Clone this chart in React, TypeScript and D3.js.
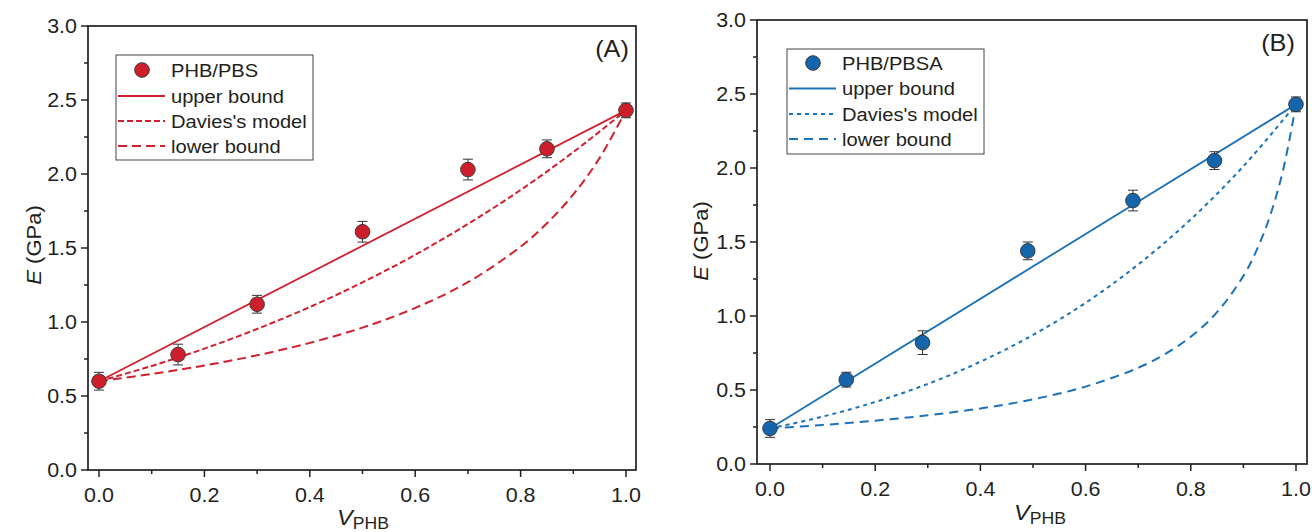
import React from 'react';
import * as d3 from 'd3';

// ---- PHB/PBS blends (panel A) ----
const phbFractionA = [0, 0.15, 0.3, 0.5, 0.7, 0.85, 1.0];
const modulusA = [0.6, 0.78, 1.12, 1.61, 2.03, 2.17, 2.43];
const errorA = [0.06, 0.07, 0.06, 0.07, 0.07, 0.06, 0.05];

// ---- PHB/PBSA blends (panel B) ----
const phbFractionB = [0, 0.145, 0.29, 0.49, 0.69, 0.845, 1.0];
const modulusB = [0.24, 0.57, 0.82, 1.44, 1.78, 2.05, 2.43];
const errorB = [0.06, 0.05, 0.08, 0.06, 0.07, 0.06, 0.05];

// ---- model curves, panel A ----
const upperVA = [0, 1];
const upperEA = [0.6, 2.43];
const daviesVA = [0, 0.1, 0.2, 0.3, 0.4, 0.5, 0.6, 0.7, 0.8, 0.9, 1.0];
const daviesEA = [0.6, 0.703, 0.82, 0.953, 1.101, 1.268, 1.454, 1.662, 1.892, 2.148, 2.43];
const lowerVA = [0, 0.1, 0.2, 0.3, 0.4, 0.5, 0.6, 0.7, 0.8, 0.85, 0.9, 0.95, 1.0];
const lowerEA = [0.6, 0.649, 0.706, 0.775, 0.859, 0.962, 1.095, 1.269, 1.509, 1.667, 1.862, 2.109, 2.43];

// ---- model curves, panel B ----
const upperVB = [0, 1];
const upperEB = [0.24, 2.43];
const daviesVB = [0, 0.1, 0.2, 0.3, 0.4, 0.5, 0.6, 0.7, 0.8, 0.9, 1.0];
const daviesEB = [0.24, 0.32, 0.419, 0.541, 0.691, 0.872, 1.089, 1.348, 1.653, 2.012, 2.43];
const lowerVB = [0, 0.1, 0.2, 0.3, 0.4, 0.5, 0.6, 0.7, 0.75, 0.8, 0.85, 0.9, 0.925, 0.95, 0.975, 1.0];
const lowerEB = [0.24, 0.264, 0.293, 0.329, 0.375, 0.437, 0.523, 0.65, 0.741, 0.86, 1.026, 1.271, 1.443, 1.669, 1.979, 2.43];

// ---- axes ----
const xTicks = [0, 0.1, 0.2, 0.3, 0.4, 0.5, 0.6, 0.7, 0.8, 0.9, 1.0];
const xTickLabels = ['0.0', '', '0.2', '', '0.4', '', '0.6', '', '0.8', '', '1.0'];
const yTicks = [0, 0.25, 0.5, 0.75, 1.0, 1.25, 1.5, 1.75, 2.0, 2.25, 2.5, 2.75, 3.0];
const yTickLabels = ['0.0', '', '0.5', '', '1.0', '', '1.5', '', '2.0', '', '2.5', '', '3.0'];

const legendLabels = ['upper bound', "Davies's model", 'lower bound'];

const FONT = '"Liberation Sans", Arial, Helvetica, sans-serif';
const SX = 1.1;
const AXIS = '#231f20';

function Label(props: any) {
  const { x, y, size, anchor = 'start', rotate = 0, italic = false, fill = '#231f20', children } = props;
  return (
    <text
      transform={`translate(${x},${y}) rotate(${rotate}) scale(${SX},1)`}
      fontSize={size}
      textAnchor={anchor}
      fontFamily={FONT}
      fontStyle={italic ? 'italic' : 'normal'}
      fill={fill}
    >
      {children}
    </text>
  );
}

function Panel(props: any) {
  const {
    frame, x0, x1, y0, y3, color, fill, name, tag, tagPos,
    pts, err, vs, upper, davies, lower, dash, legend, yTitle, xTitle,
  } = props;
  const x = d3.scaleLinear().domain([0, 1]).range([x0, x1]);
  const y = d3.scaleLinear().domain([0, 3]).range([y0, y3]);
  const line = d3.line<[number, number]>()
    .x((d) => x(d[0]))
    .y((d) => y(d[1]))
    .curve(d3.curveCatmullRom.alpha(0.5));
  const zip = (a: number[], b: number[]) => a.map((v, i) => [v, b[i]] as [number, number]);

  const [L, T, R, B] = frame;
  return (
    <g>
      {/* model curves */}
      <path d={line(zip(upper[0], upper[1])) || ''} fill="none" stroke={color} strokeWidth={1.8} />
      <path d={line(zip(davies[0], davies[1])) || ''} fill="none" stroke={color} strokeWidth={2} strokeDasharray={dash[0]} />
      <path d={line(zip(lower[0], lower[1])) || ''} fill="none" stroke={color} strokeWidth={2} strokeDasharray={dash[1]} />

      {/* error bars */}
      {vs.map((v: number, i: number) => {
        const cx = x(v);
        const top = y(pts[i] + err[i]);
        const bot = y(pts[i] - err[i]);
        return (
          <g key={'e' + i} stroke="#333" strokeWidth={1}>
            <line x1={cx} x2={cx} y1={top} y2={bot} />
            <line x1={cx - 5} x2={cx + 5} y1={top} y2={top} />
            <line x1={cx - 5} x2={cx + 5} y1={bot} y2={bot} />
          </g>
        );
      })}
      {/* data points */}
      {vs.map((v: number, i: number) => (
        <circle key={'p' + i} cx={x(v)} cy={y(pts[i])} r={7.3} fill={fill} stroke="#3a3a3a" strokeWidth={1} />
      ))}

      {/* frame */}
      <rect x={L} y={T} width={R - L} height={B - T} fill="none" stroke={AXIS} strokeWidth={1.7} />

      {/* x ticks */}
      {xTicks.map((t, i) => (
        <g key={'xt' + i}>
          <line x1={x(t)} x2={x(t)} y1={B} y2={B + (xTickLabels[i] ? 7 : 4)} stroke={AXIS} strokeWidth={1.5} />
          {xTickLabels[i] && (
            <Label x={x(t)} y={B + 32} size={19.5} anchor="middle">{xTickLabels[i]}</Label>
          )}
        </g>
      ))}
      {/* y ticks */}
      {yTicks.map((t, i) => (
        <g key={'yt' + i}>
          <line x1={L} x2={L - (yTickLabels[i] ? 7 : 4)} y1={y(t)} y2={y(t)} stroke={AXIS} strokeWidth={1.5} />
          {yTickLabels[i] && (
            <Label x={L - 11} y={y(t) + 7} size={19.5} anchor="end">{yTickLabels[i]}</Label>
          )}
        </g>
      ))}

      {/* axis titles */}
      <Label x={yTitle[0]} y={yTitle[1]} size={20} anchor="middle" rotate={-90}>
        <tspan fontStyle="italic">E</tspan> (GPa)
      </Label>
      <Label x={xTitle[0]} y={xTitle[1]} size={21.5} anchor="middle">
        <tspan fontStyle="italic">V</tspan>
        <tspan fontSize={16} dy={4}>PHB</tspan>
      </Label>

      {/* panel tag */}
      <Label x={tagPos[0]} y={tagPos[1]} size={23} anchor="middle">{tag}</Label>

      {/* legend */}
      <g>
        <rect x={legend.box[0]} y={legend.box[1]} width={legend.box[2] - legend.box[0]} height={legend.box[3] - legend.box[1]}
          fill="#fff" stroke="#444" strokeWidth={1} />
        <circle cx={legend.marker} cy={legend.rows[0]} r={7.3} fill={fill} stroke="#3a3a3a" strokeWidth={1} />
        <Label x={legend.text} y={legend.rows[0] + 6.5} size={18.3}>{name}</Label>
        {legendLabels.map((lab, i) => (
          <g key={'lg' + i}>
            <line x1={legend.line[0]} x2={legend.line[1]} y1={legend.rows[i + 1]} y2={legend.rows[i + 1]}
              stroke={color} strokeWidth={2} strokeDasharray={i === 0 ? undefined : dash[i - 1]} />
            <Label x={legend.text} y={legend.rows[i + 1] + 6.5} size={18.3}>{lab}</Label>
          </g>
        ))}
      </g>
    </g>
  );
}

export default function App() {
  return (
    <svg width={1312} height={532} style={{ position: 'absolute', left: 0, top: 0, background: '#fff' }}>
      <rect width={1312} height={532} fill="#fff" />
      <Panel
        frame={[88, 26, 636, 470]}
        x0={99} x1={626} y0={470} y3={26}
        color="#d0202e" fill="#cc1f2b"
        name="PHB/PBS" tag="(A)" tagPos={[612, 57]}
        vs={phbFractionA} pts={modulusA} err={errorA}
        upper={[upperVA, upperEA]} davies={[daviesVA, daviesEA]} lower={[lowerVA, lowerEA]}
        dash={['6,3', '9,5']}
        legend={{ box: [116, 55, 313, 160], rows: [70, 96, 121, 146], marker: 142, line: [118, 165], text: 171 }}
        yTitle={[41, 245]} xTitle={[363, 525]}
      />
      <Panel
        frame={[757, 20, 1307, 464]}
        x0={770} x1={1296} y0={464} y3={20}
        color="#1b72b8" fill="#1565ad"
        name="PHB/PBSA" tag="(B)" tagPos={[1278, 51]}
        vs={phbFractionB} pts={modulusB} err={errorB}
        upper={[upperVB, upperEB]} davies={[daviesVB, daviesEB]} lower={[lowerVB, lowerEB]}
        dash={['4,4', '9,6']}
        legend={{ box: [787, 49, 984, 154], rows: [63, 88.5, 114, 139], marker: 813, line: [789, 836], text: 842 }}
        yTitle={[708, 241]} xTitle={[1040, 520]}
      />
    </svg>
  );
}
